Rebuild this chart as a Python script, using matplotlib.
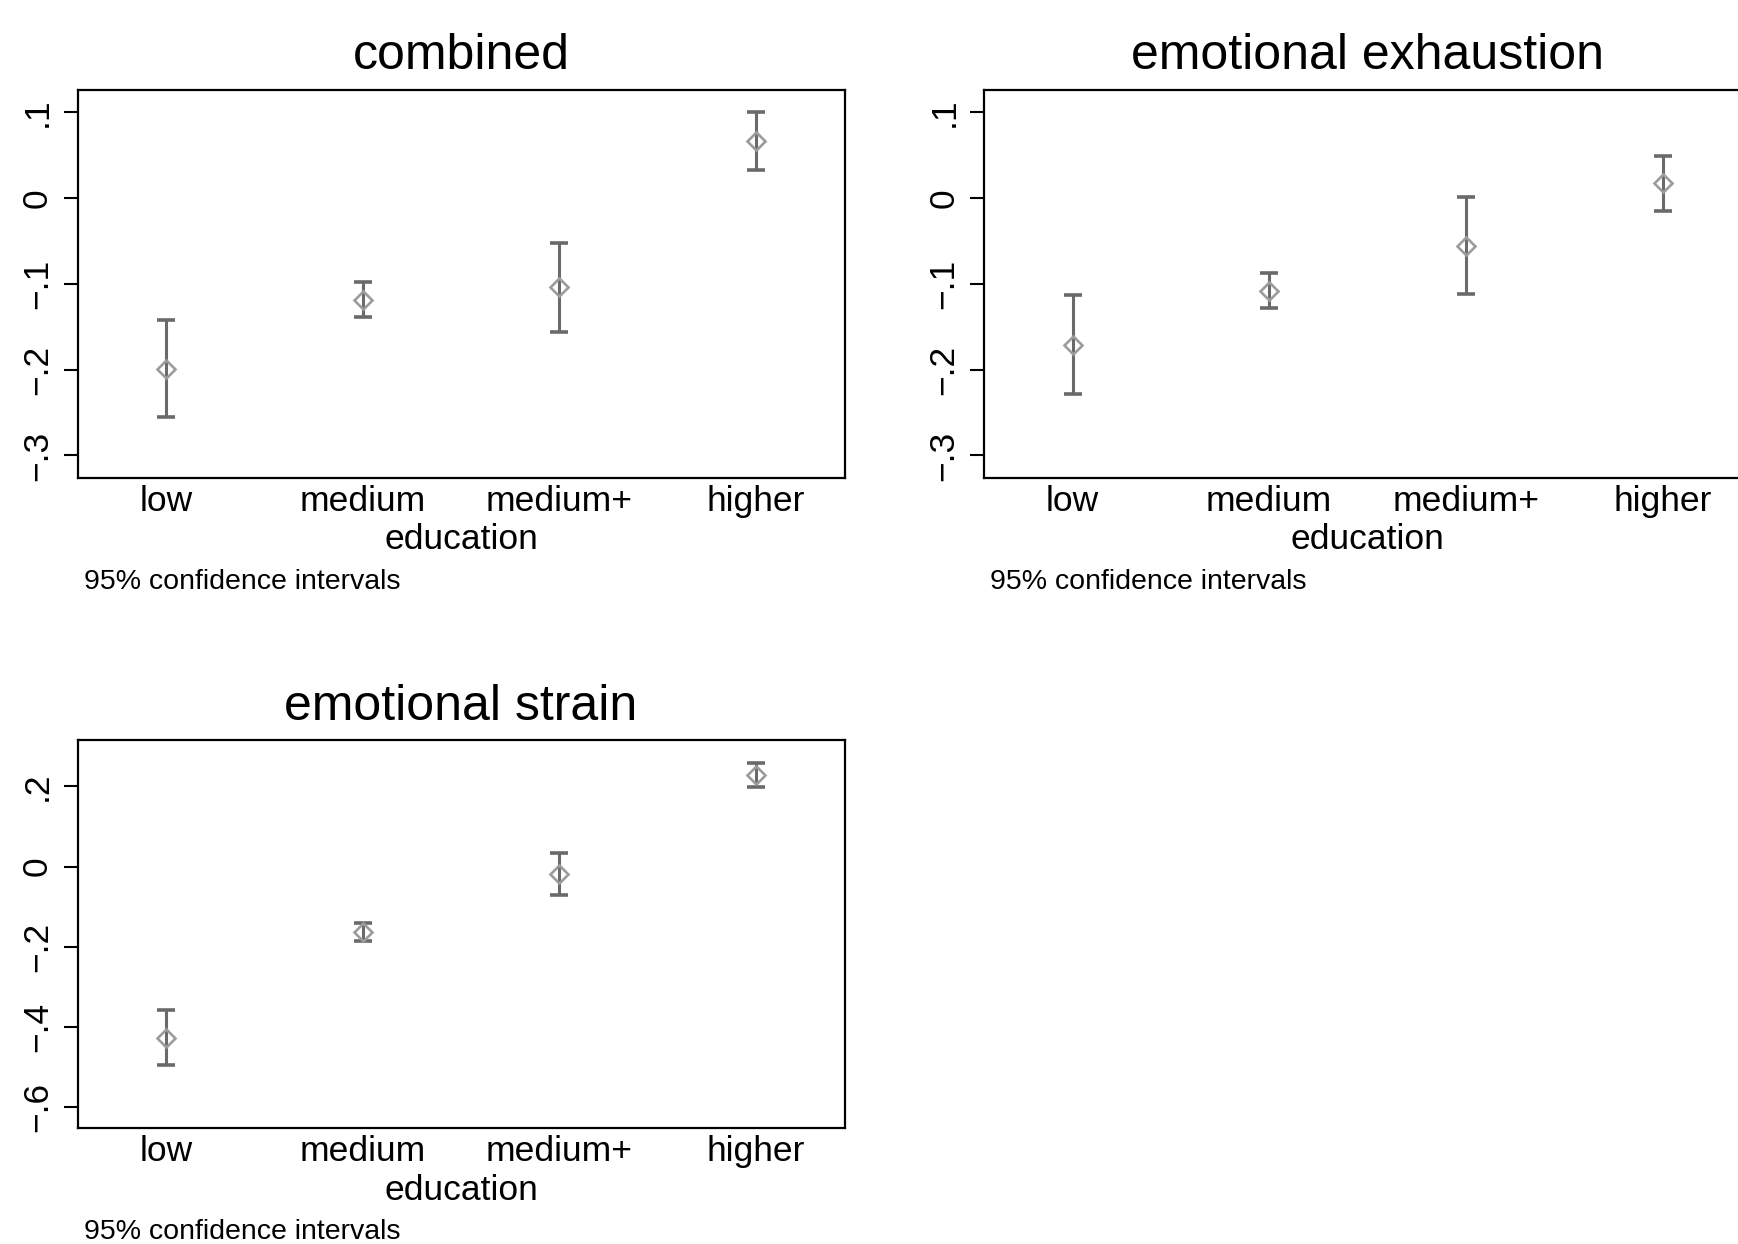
import matplotlib
matplotlib.use("Agg")
import matplotlib.pyplot as plt

plt.rcParams['font.family'] = ['Liberation Sans', 'DejaVu Sans']

categories = ['low', 'medium', 'medium+', 'higher']
xpos = [1, 2, 3, 4]

# point estimates and 95% CI bounds
combined_est = [-0.199, -0.119, -0.104, 0.066]
combined_lo = [-0.255, -0.139, -0.156, 0.033]
combined_hi = [-0.142, -0.098, -0.052, 0.100]

exhaust_est = [-0.171, -0.108, -0.056, 0.017]
exhaust_lo = [-0.229, -0.128, -0.112, -0.015]
exhaust_hi = [-0.113, -0.088, 0.001, 0.049]

strain_est = [-0.427, -0.163, -0.019, 0.229]
strain_lo = [-0.496, -0.185, -0.072, 0.198]
strain_hi = [-0.358, -0.141, 0.035, 0.258]

ticks_small = [-0.3, -0.2, -0.1, 0, 0.1]
ticklabels_small = ['\u2212.3', '\u2212.2', '\u2212.1', '0', '.1']
ticks_big = [-0.6, -0.4, -0.2, 0, 0.2]
ticklabels_big = ['\u2212.6', '\u2212.4', '\u2212.2', '0', '.2']

W, H = 1738, 1244
fig = plt.figure(figsize=(W / 100, H / 100), dpi=100)


def panel(rect, title, est, lo, hi, ticks, labels, ylim):
    ax = fig.add_axes(rect)
    yerr = [[e - l for e, l in zip(est, lo)], [h - e for e, h in zip(est, hi)]]
    ax.errorbar(xpos, est, yerr=yerr, fmt='none', ecolor='#6a6a6a',
                elinewidth=2.2, capsize=6.8, capthick=2.6, zorder=2)
    ax.plot(xpos, est, 'D', markersize=9.5, markerfacecolor='none',
            markeredgecolor='#9c9c9c', markeredgewidth=1.9, zorder=3)
    ax.set_xlim(0.55, 4.45)
    ax.set_ylim(*ylim)
    ax.set_xticks(xpos)
    ax.set_xticklabels(categories, fontsize=25.5)
    ax.tick_params(axis='x', length=0, pad=5)
    ax.set_yticks(ticks)
    ax.set_yticklabels(labels, fontsize=25.5, rotation=90, va='center')
    ax.tick_params(axis='y', length=10, width=1.5, pad=7)
    for s in ax.spines.values():
        s.set_linewidth(1.6)
    ax.set_xlabel('education', fontsize=25.5, labelpad=4)
    ax.set_title(title, fontsize=36, pad=15)
    ax.annotate('95% confidence intervals', xy=(0, 0), xycoords='axes fraction',
                xytext=(6, -104), textcoords='offset pixels',
                fontsize=20.5, va='center', ha='left')
    return ax


aw = (844.6 - 77.6) / W
ah = (477.7 - 89.8) / H
panel([77.6 / W, 1 - 477.7 / H, aw, ah], 'combined',
      combined_est, combined_lo, combined_hi, ticks_small, ticklabels_small, (-0.326, 0.126))
panel([984 / W, 1 - 477.7 / H, aw, ah], 'emotional exhaustion',
      exhaust_est, exhaust_lo, exhaust_hi, ticks_small, ticklabels_small, (-0.326, 0.126))
panel([77.6 / W, 1 - 1128.3 / H, aw, ah], 'emotional strain',
      strain_est, strain_lo, strain_hi, ticks_big, ticklabels_big, (-0.653, 0.315))

fig.savefig('out.png', dpi=100)
